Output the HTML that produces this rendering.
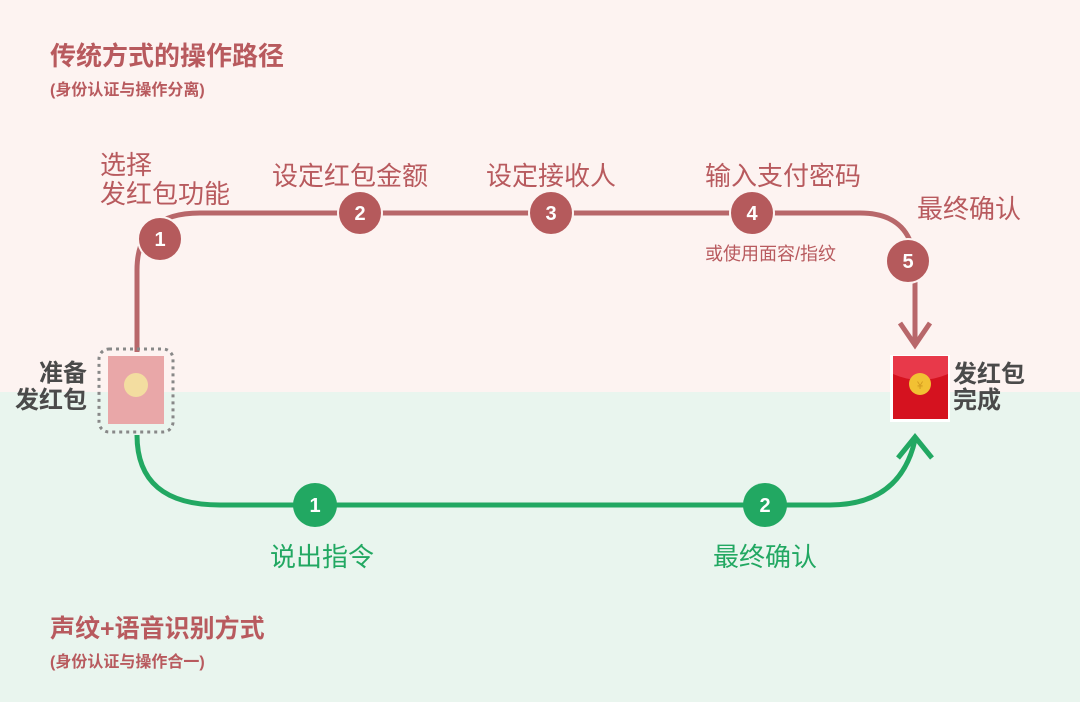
<!DOCTYPE html>
<html><head><meta charset="utf-8"><style>
body{margin:0;width:1080px;height:702px;overflow:hidden;font-family:"Liberation Sans","Noto Sans CJK SC",sans-serif;}
</style></head><body>
<svg width="1080" height="702" xmlns="http://www.w3.org/2000/svg" style="display:block;font-family:'Liberation Sans','Noto Sans CJK SC',sans-serif">
<rect x="0" y="0" width="1080" height="392" fill="#fdf3f1"/>
<rect x="0" y="392" width="1080" height="310" fill="#e9f5ee"/>
<g fill="#b85a5e" font-weight="bold">
<text x="50" y="65" font-size="26">传统方式的操作路径</text>
<text x="50" y="95" font-size="16">(身份认证与操作分离)</text>
<text x="50" y="637" font-size="25">声纹+语音识别方式</text>
<text x="50" y="667" font-size="16">(身份认证与操作合一)</text>
</g>
<path d="M137 352 L137 270 Q137 213 200 213 L860 213 Q915 213 915 270 L915 345" fill="none" stroke="#b8676a" stroke-width="5"/>
<path d="M900 323 L915 345 L930 323" fill="none" stroke="#b8676a" stroke-width="5"/>
<path d="M137 435 Q137 505 220 505 L830 505 Q900 505 915 440" fill="none" stroke="#22a862" stroke-width="5"/>
<path d="M898 458 L915 437 L932 458" fill="none" stroke="#22a862" stroke-width="5"/>
<g fill="#b55a5c" stroke="#fdf3f1" stroke-width="2">
<circle cx="160" cy="239" r="22"/><circle cx="360" cy="213" r="22"/><circle cx="551" cy="213" r="22"/><circle cx="752" cy="213" r="22"/><circle cx="908" cy="261" r="22"/>
</g>
<g fill="#fff" font-size="20" font-weight="bold" text-anchor="middle">
<text x="160" y="246">1</text><text x="360" y="220">2</text><text x="551" y="220">3</text><text x="752" y="220">4</text><text x="908" y="268">5</text>
</g>
<g fill="#22a862"><circle cx="315" cy="505" r="22"/><circle cx="765" cy="505" r="22"/></g>
<g fill="#fff" font-size="20" font-weight="bold" text-anchor="middle"><text x="315" y="512">1</text><text x="765" y="512">2</text></g>
<g fill="#b85a5e" font-size="26">
<text x="100" y="174">选择</text><text x="100" y="203">发红包功能</text>
<text x="272" y="185">设定红包金额</text>
<text x="486" y="185">设定接收人</text>
<text x="705" y="185">输入支付密码</text>
<text x="917" y="218">最终确认</text>
</g>
<text x="705" y="260" font-size="18" fill="#b85a5e">或使用面容/指纹</text>
<g fill="#22a862" font-size="26"><text x="270" y="566">说出指令</text><text x="713" y="566">最终确认</text></g>
<rect x="99" y="349" width="74" height="83" rx="10" fill="none" stroke="#888" stroke-width="3" stroke-dasharray="3 4"/>
<rect x="108" y="356" width="56" height="68" fill="#e9a7a8"/>
<circle cx="136" cy="385" r="12" fill="#f3dda0"/>
<g fill="#4a4a4a" font-size="24" font-weight="bold" text-anchor="end"><text x="87" y="381">准备</text><text x="87" y="408">发红包</text></g>
<rect x="890" y="355" width="60" height="67" fill="#fff"/>
<rect x="893" y="356" width="55" height="63" fill="#d5121f"/>
<path d="M893 356 L948 356 L948 374 Q920 386 893 374 Z" fill="#e8394a"/>
<circle cx="920" cy="384" r="11" fill="#f2c133"/>
<text x="920" y="389" font-size="11" fill="#d39a20" text-anchor="middle">¥</text>
<g fill="#4a4a4a" font-size="24" font-weight="bold"><text x="953" y="382">发红包</text><text x="953" y="408">完成</text></g>
</svg>
</body></html>
